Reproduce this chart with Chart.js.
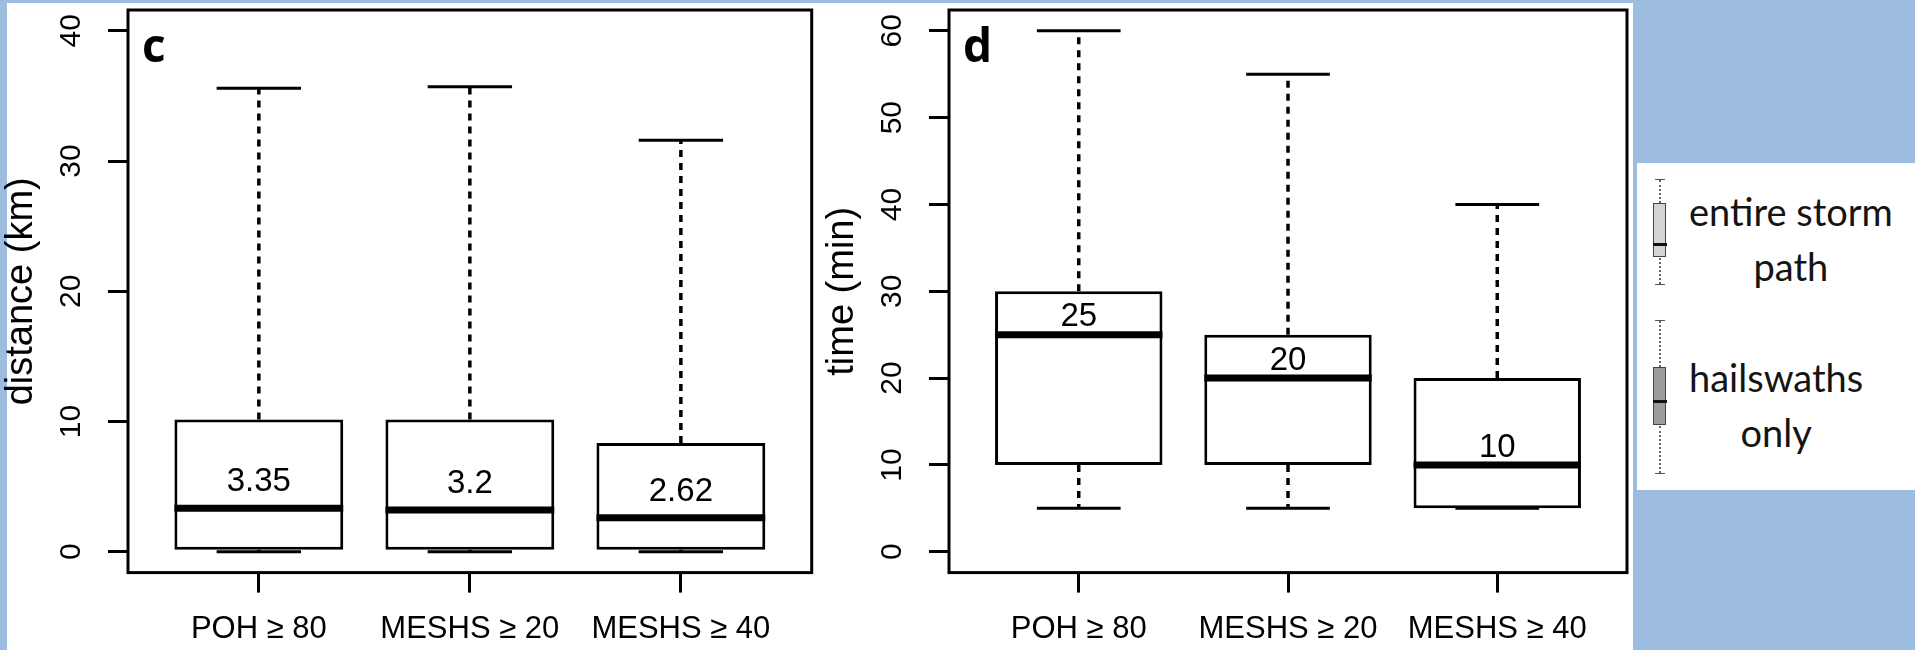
<!DOCTYPE html>
<html>
<head>
<meta charset="utf-8">
<title>Hail storm path boxplots</title>
<script src="https://cdn.jsdelivr.net/npm/chart.js@4.4.1/dist/chart.umd.min.js"></script>
<style>
    html, body { margin: 0; padding: 0; }
    body {
        width: 1915px; height: 650px; overflow: hidden; position: relative;
        background: #9dbde0;
        font-family: "Liberation Sans", Arial, sans-serif;
    }
    .sheet { position: absolute; left: 7px; top: 3px; width: 1626px; height: 647px; background: #fff; }
    canvas { position: absolute; top: 0; }
    #chartC { left: 0; }
    #chartD { left: 820px; }

    .legend { position: absolute; left: 1637px; top: 163px; width: 278px; height: 327px; background: #fff; }
    .legend .item { position: absolute; left: 52px; text-align: center; font-family: Lato, "Open Sans", sans-serif; font-size: 38px; line-height: 55px; color: #141414; white-space: nowrap; }
    .icon { position: absolute; left: 16px; width: 14px; }
    .icon .wh { position: absolute; left: 6px; width: 0; border-left: 2px dotted #666; }
    .icon .cap { position: absolute; left: 2px; width: 10px; height: 0; border-top: 1.5px solid #555; }
    .icon .box { position: absolute; left: 0; width: 11px; border: 1.5px solid #444; }
    .icon .med { position: absolute; left: 0; width: 14px; height: 3px; background: #111; }
</style>
</head>
<body>
<div class="sheet"></div>
<canvas id="chartC" width="840" height="650"></canvas>
<canvas id="chartD" width="830" height="650"></canvas>

<div class="legend">
    <div class="icon">
        <div class="cap" style="top:16px"></div>
        <div class="wh" style="top:17px;height:23px"></div>
        <div class="box" style="top:40px;height:52px;background:#d4d4d4"></div>
        <div class="med" style="top:80px"></div>
        <div class="wh" style="top:95px;height:26px"></div>
        <div class="cap" style="top:121px"></div>
    </div>
    <div class="icon">
        <div class="cap" style="top:157px"></div>
        <div class="wh" style="top:158px;height:46px"></div>
        <div class="box" style="top:204px;height:56px;background:#9c9c9c"></div>
        <div class="med" style="top:237px"></div>
        <div class="wh" style="top:263px;height:47px"></div>
        <div class="cap" style="top:310px"></div>
    </div>
    <div class="item" style="top:21px">entire storm<br>path</div>
    <div class="item" style="top:187px">hailswaths<br>only</div>
</div>

<script>
(function() {
    'use strict';

    const categories = ['POH ≥ 80', 'MESHS ≥ 20', 'MESHS ≥ 40'];

    // c: distance (km)
    const distLow = [0, 0, 0];
    const distQ1 = [0.15, 0.15, 0.15];
    const distMedian = [3.35, 3.2, 2.62];
    const distQ3 = [10.15, 10.15, 8.35];
    const distHigh = [35.6, 35.7, 31.6];
    const distTicks = [0, 10, 20, 30, 40];

    // d: time (min)
    const timeLow = [5, 5, 5];
    const timeQ1 = [10, 10, 5];
    const timeMedian = [25, 20, 10];
    const timeQ3 = [30, 25, 20];
    const timeHigh = [60, 55, 40];
    const timeTicks = [0, 10, 20, 30, 40, 50, 60];

    const AXIS_FONT = '"Liberation Sans", Arial, sans-serif';

    // whiskers, staples, medians, median labels, frame and panel letter
    const boxExtras = {
        id: 'boxExtras',
        afterDatasetsDraw(chart, args, opts) {
            const ctx = chart.ctx;
            const area = chart.chartArea;
            const x = chart.scales.x;
            const y = chart.scales.y;
            ctx.save();
            ctx.strokeStyle = '#000';
            ctx.fillStyle = '#000';

            opts.median.forEach(function(m, i) {
                const cx = x.getPixelForValue(i + 1);
                const boxHalf = x.getPixelForValue(i + 1.4) - cx;
                const capHalf = boxHalf / 2;
                const yLow = y.getPixelForValue(opts.low[i]);
                const yQ1 = y.getPixelForValue(opts.q1[i]);
                const yMed = y.getPixelForValue(m);
                const yQ3 = y.getPixelForValue(opts.q3[i]);
                const yHigh = y.getPixelForValue(opts.high[i]);

                ctx.lineWidth = 3.5;
                ctx.setLineDash([7, 6]);
                ctx.beginPath();
                ctx.moveTo(cx, yQ3); ctx.lineTo(cx, yHigh);
                ctx.moveTo(cx, yQ1); ctx.lineTo(cx, yLow);
                ctx.stroke();

                ctx.setLineDash([]);
                ctx.lineWidth = 3;
                ctx.beginPath();
                ctx.moveTo(cx - capHalf, yHigh); ctx.lineTo(cx + capHalf, yHigh);
                ctx.moveTo(cx - capHalf, yLow); ctx.lineTo(cx + capHalf, yLow);
                ctx.stroke();

                ctx.lineWidth = 7;
                ctx.beginPath();
                ctx.moveTo(cx - boxHalf, yMed); ctx.lineTo(cx + boxHalf, yMed);
                ctx.stroke();

                ctx.font = '33px ' + AXIS_FONT;
                ctx.textAlign = 'center';
                ctx.textBaseline = 'middle';
                ctx.fillText(String(m), cx, y.getPixelForValue(m + 2));
            });

            ctx.lineWidth = 3;
            ctx.strokeRect(area.left, area.top, area.right - area.left, area.bottom - area.top);

            ctx.font = 'bold 46px "Open Sans", sans-serif';
            ctx.textAlign = 'left';
            ctx.textBaseline = 'alphabetic';
            ctx.fillText(opts.letter, area.left + 14, area.top + 52);
            ctx.restore();
        }
    };

    function makeBoxChart(id, cfg) {
        const span = cfg.ticks[cfg.ticks.length - 1] - cfg.ticks[0];
        const yPad = span * 0.04;

        return new Chart(document.getElementById(id), {
            type: 'bar',
            data: {
                datasets: [{
                    data: cfg.q1.map(function(q, i) { return { x: i + 1, y: [q, cfg.q3[i]] }; }),
                    backgroundColor: '#ffffff',
                    borderColor: '#000000',
                    borderWidth: 3,
                    borderSkipped: false,
                    categoryPercentage: 1,
                    barPercentage: 0.8
                }]
            },
            options: {
                responsive: false,
                animation: false,
                events: [],
                layout: { padding: { top: 10, right: cfg.padRight, bottom: 0, left: 0 } },
                plugins: {
                    legend: { display: false },
                    tooltip: { enabled: false },
                    boxExtras: {
                        low: cfg.low, q1: cfg.q1, median: cfg.median, q3: cfg.q3, high: cfg.high,
                        letter: cfg.letter
                    }
                },
                scales: {
                    x: {
                        type: 'linear',
                        bounds: 'data',
                        offset: false,
                        min: 0.38,
                        max: 3.62,
                        afterBuildTicks: function(scale) {
                            scale.ticks = categories.map(function(c, i) { return { value: i + 1 }; });
                        },
                        afterFit: function(scale) {
                            scale.height = 77.4;
                            scale.paddingLeft = 0;
                            scale.paddingRight = 0;
                        },
                        grid: { offset: false, drawOnChartArea: false, drawTicks: true, tickLength: 20, tickWidth: 3, tickColor: '#000' },
                        border: { display: false },
                        ticks: {
                            autoSkip: false,
                            maxRotation: 0,
                            padding: 18,
                            color: '#000',
                            font: { family: AXIS_FONT, size: 31 },
                            callback: function(v) { return categories[v - 1]; }
                        }
                    },
                    y: {
                        bounds: 'data',
                        min: cfg.ticks[0] - yPad,
                        max: cfg.ticks[cfg.ticks.length - 1] + yPad,
                        afterBuildTicks: function(scale) {
                            scale.ticks = cfg.ticks.map(function(v) { return { value: v }; });
                        },
                        afterFit: function(scale) {
                            scale.width = cfg.axisWidth;
                            scale.paddingTop = 0;
                            scale.paddingBottom = 0;
                        },
                        grid: { drawOnChartArea: false, drawTicks: true, tickLength: 20, tickWidth: 3, tickColor: '#000' },
                        border: { display: false },
                        ticks: {
                            minRotation: 90,
                            maxRotation: 90,
                            crossAlign: 'center',
                            padding: 20,
                            color: '#000',
                            font: { family: AXIS_FONT, size: 30 }
                        },
                        title: {
                            display: true,
                            text: cfg.title,
                            color: '#000',
                            font: { family: AXIS_FONT, size: 38, lineHeight: 1 },
                            padding: { top: cfg.titlePad, bottom: 0 }
                        }
                    }
                }
            },
            plugins: [boxExtras]
        });
    }

    makeBoxChart('chartC', {
        low: distLow, q1: distQ1, median: distMedian, q3: distQ3, high: distHigh,
        ticks: distTicks, title: 'distance (km)', letter: 'c',
        axisWidth: 128, padRight: 28.3, titlePad: 3
    });

    makeBoxChart('chartD', {
        low: timeLow, q1: timeQ1, median: timeMedian, q3: timeQ3, high: timeHigh,
        ticks: timeTicks, title: 'time (min)', letter: 'd',
        axisWidth: 129, padRight: 23, titlePad: 4
    });
})();
</script>
</body>
</html>
